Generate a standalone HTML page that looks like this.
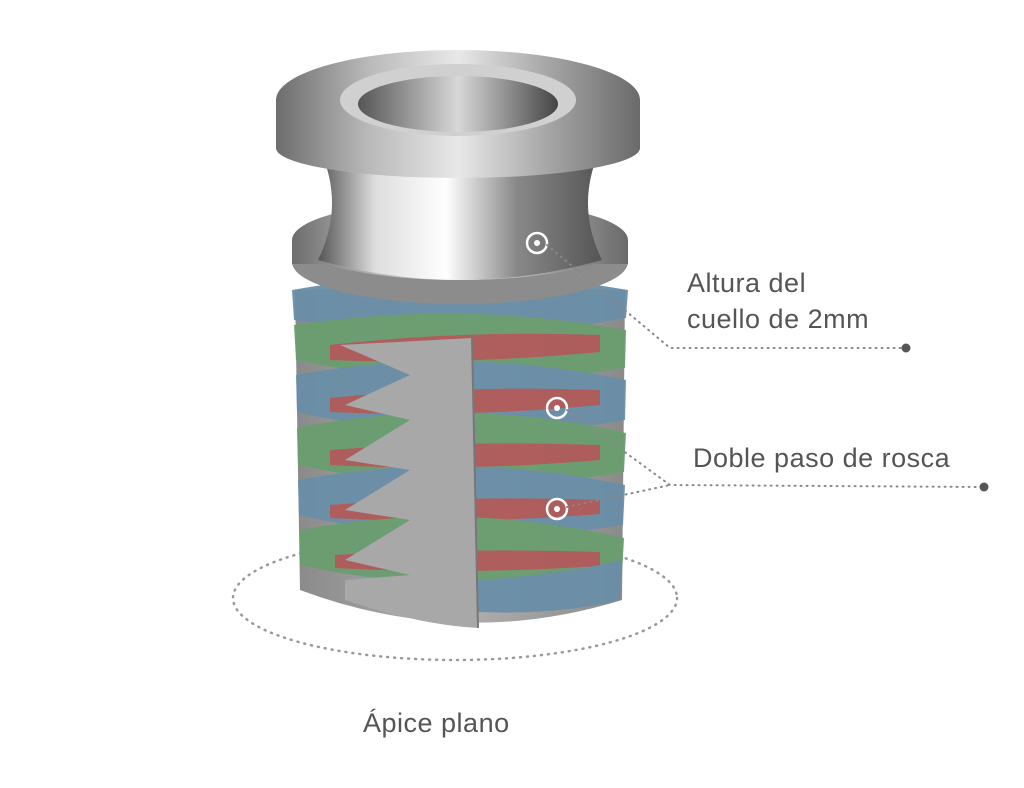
<!DOCTYPE html>
<html><head><meta charset="utf-8"><style>
html,body{margin:0;padding:0;background:#fff;width:1024px;height:788px;overflow:hidden}
svg{display:block}
text{font-family:"Liberation Sans",sans-serif;fill:#555;font-size:27px;letter-spacing:0.5px}
</style></head><body>
<svg width="1024" height="788" viewBox="0 0 1024 788">
<defs>
<linearGradient id="metal" x1="0" x2="1">
<stop offset="0" stop-color="#6d6d6d"/><stop offset="0.25" stop-color="#b8b8b8"/><stop offset="0.5" stop-color="#e8e8e8"/><stop offset="0.75" stop-color="#a5a5a5"/><stop offset="1" stop-color="#6a6a6a"/></linearGradient>
<linearGradient id="neck" x1="0" x2="1">
<stop offset="0" stop-color="#555"/><stop offset="0.2" stop-color="#ddd"/><stop offset="0.45" stop-color="#fff"/><stop offset="0.7" stop-color="#888"/><stop offset="1" stop-color="#555"/></linearGradient>
<linearGradient id="body" x1="0" x2="1">
<stop offset="0" stop-color="#8a8a8a"/><stop offset="0.5" stop-color="#b0b0b0"/><stop offset="1" stop-color="#8a8a8a"/></linearGradient>
<linearGradient id="hole" x1="0" x2="1">
<stop offset="0" stop-color="#555"/><stop offset="0.5" stop-color="#d8d8d8"/><stop offset="1" stop-color="#444"/></linearGradient>
</defs>

<ellipse cx="455" cy="598" rx="222" ry="62" fill="none" stroke="#999" stroke-width="2.5" stroke-dasharray="1 6" stroke-linecap="round"/>

<path d="M295 290 L625 290 L622 600 Q460 650 300 590 Z" fill="url(#body)"/>
<g opacity="0.95">
<path d="M292 290 Q460 260 628 290 L626 318 Q460 350 294 320 Z" fill="#6a8fa8"/>
<path d="M294 325 Q460 300 626 330 L625 368 Q460 395 296 360 Z" fill="#6a9e70"/>
<path d="M330 345 Q460 330 600 335 L600 352 Q460 365 330 360 Z" fill="#b05a5a"/>
<path d="M296 375 Q460 345 626 380 L625 420 Q460 450 297 412 Z" fill="#6a8fa8"/>
<path d="M330 398 Q460 385 600 390 L600 405 Q460 418 330 412 Z" fill="#b05a5a"/>
<path d="M297 428 Q460 395 626 433 L624 472 Q460 500 298 465 Z" fill="#6a9e70"/>
<path d="M330 450 Q460 440 600 445 L600 460 Q460 472 330 465 Z" fill="#b05a5a"/>
<path d="M298 480 Q460 450 625 485 L623 525 Q460 552 299 515 Z" fill="#6a8fa8"/>
<path d="M330 505 Q460 495 600 500 L600 514 Q460 525 330 518 Z" fill="#b05a5a"/>
<path d="M300 530 Q460 500 624 538 L622 575 Q460 600 300 565 Z" fill="#6a9e70"/>
<path d="M335 555 Q460 548 600 552 L600 566 Q460 575 335 568 Z" fill="#b05a5a"/>
<path d="M478 580 Q560 575 622 560 L620 600 Q560 615 478 612 Z" fill="#6a8fa8"/>
</g>
<path d="M340 345 L472 338 L478 628 Q420 625 345 600 L345 580 L410 575 L345 560 L410 520 L345 510 L410 470 L345 460 L410 420 L345 405 L410 375 Z" fill="#a8a8a8"/>
<path d="M472 338 L478 628" stroke="#777" stroke-width="2"/>

<ellipse cx="460" cy="262" rx="168" ry="42" fill="#8c8c8c"/>
<rect x="292" y="240" width="336" height="24" fill="url(#metal)"/>
<ellipse cx="460" cy="240" rx="168" ry="40" fill="url(#metal)"/>
<path d="M320 150 Q345 205 318 260 Q460 300 602 260 Q575 205 600 150 Z" fill="url(#neck)"/>
<rect x="276" y="100" width="364" height="48" fill="url(#metal)"/>
<ellipse cx="458" cy="148" rx="182" ry="30" fill="url(#metal)"/>
<ellipse cx="458" cy="100" rx="182" ry="50" fill="url(#metal)"/>
<ellipse cx="458" cy="100" rx="118" ry="36" fill="#d0d0d0"/>
<ellipse cx="458" cy="104" rx="100" ry="28" fill="url(#hole)"/>

<g fill="none" stroke="#fff" stroke-width="2.5">
<circle cx="537" cy="243" r="10"/><circle cx="557" cy="408" r="10"/><circle cx="557" cy="509" r="10"/></g>
<g fill="#fff"><circle cx="537" cy="243" r="3"/><circle cx="557" cy="408" r="3"/><circle cx="557" cy="509" r="3"/></g>

<g fill="none" stroke="#888" stroke-width="2" stroke-dasharray="1 5" stroke-linecap="round">
<path d="M547 245 L670 348 L905 348"/>
<path d="M567 410 L670 485 L983 487"/>
<path d="M567 507 L670 485"/>
</g>
<circle cx="906" cy="348" r="4.5" fill="#555"/>
<circle cx="984" cy="487" r="4.5" fill="#555"/>

<text x="687" y="292">Altura del</text>
<text x="687" y="328">cuello de 2mm</text>
<text x="693" y="467">Doble paso de rosca</text>
<text x="363" y="732">Ápice plano</text>
</svg>
</body></html>
